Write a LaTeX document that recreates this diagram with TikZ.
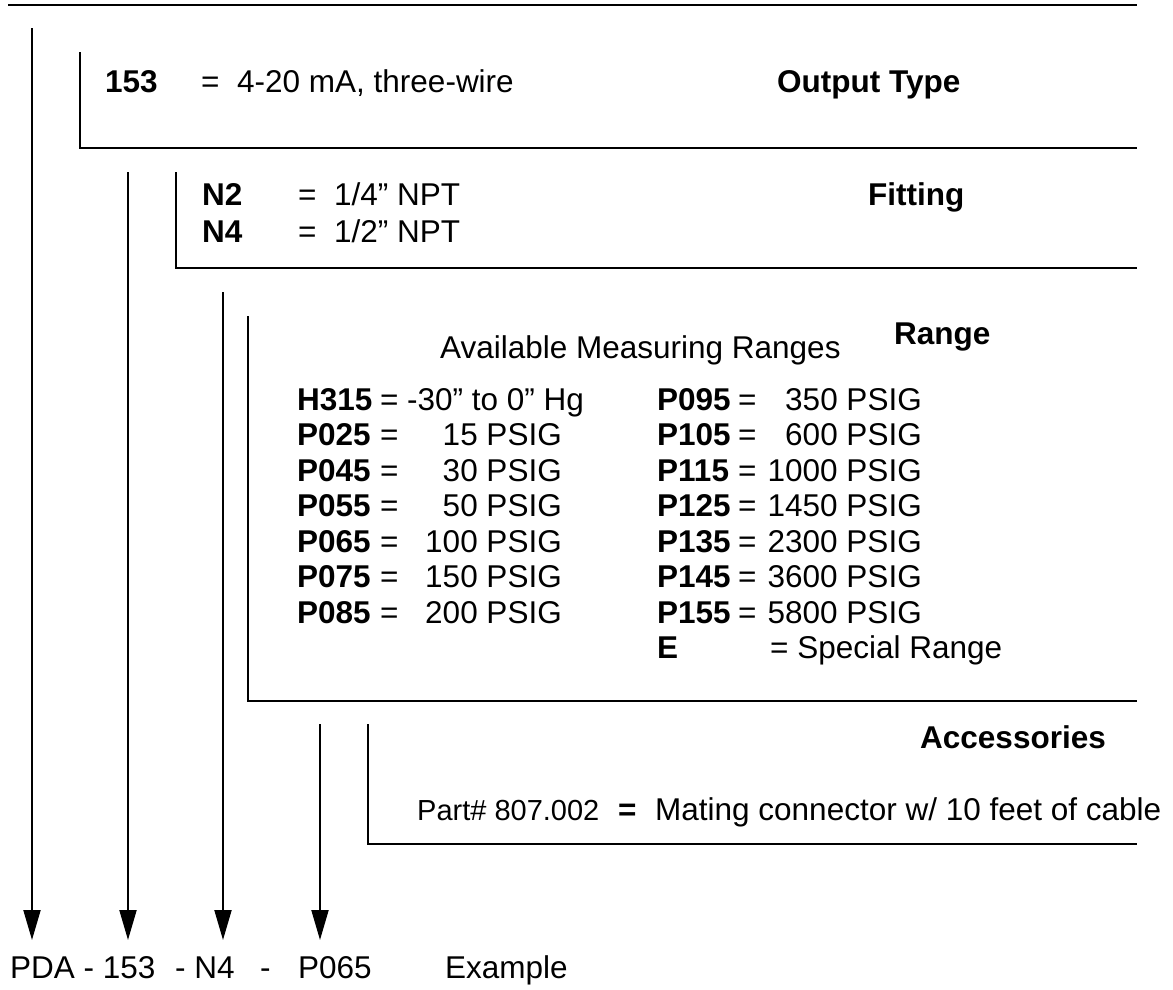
\documentclass[tikz,border=0pt]{standalone}
\usepackage{fontspec}
\setmainfont{Liberation Sans}
\usetikzlibrary{arrows.meta}
\begin{document}
\begin{tikzpicture}[x=1pt,y=-1pt,
  ln/.style={line width=2pt},
  arr/.style={line width=2pt,-{Triangle[length=30pt,width=17pt]}},
  txt/.style={anchor=base west,inner sep=0pt,font=\fontsize{31.5}{37}\selectfont},
  btxt/.style={anchor=base west,inner sep=0pt,font=\fontsize{31.5}{37}\selectfont\bfseries},
  rtxt/.style={anchor=base east,inner sep=0pt,font=\fontsize{31.5}{37}\selectfont},
  stxt/.style={anchor=base west,inner sep=0pt,font=\fontsize{29}{34}\selectfont}]
\useasboundingbox (0,0) rectangle (1173,989);
% top rule
\coordinate (tl) at (8,5); \coordinate (tr) at (1137,5);
\draw[ln] (tl) -- (tr);
% arrows
\coordinate (a1s) at (32,28);  \coordinate (a1e) at (32,940);
\coordinate (a2s) at (128,172); \coordinate (a2e) at (128,940);
\coordinate (a3s) at (223,292); \coordinate (a3e) at (223,940);
\coordinate (a4s) at (320,724); \coordinate (a4e) at (320,940);
\draw[arr] (a1s) -- (a1e);
\draw[arr] (a2s) -- (a2e);
\draw[arr] (a3s) -- (a3e);
\draw[arr] (a4s) -- (a4e);
% brackets
\coordinate (b1t) at (80,52);  \coordinate (b1c) at (80,148);  \coordinate (b1r) at (1137,148);
\coordinate (b2t) at (176,172); \coordinate (b2c) at (176,268); \coordinate (b2r) at (1137,268);
\coordinate (b3t) at (248,316); \coordinate (b3c) at (248,701); \coordinate (b3r) at (1137,701);
\coordinate (b4t) at (368,724); \coordinate (b4c) at (368,844); \coordinate (b4r) at (1137,844);
\draw[ln] (b1t) -- (b1c) -- (b1r);
\draw[ln] (b2t) -- (b2c) -- (b2r);
\draw[ln] (b3t) -- (b3c) -- (b3r);
\draw[ln] (b4t) -- (b4c) -- (b4r);
% output type
\node[btxt] (c153) at (105,92) {153};
\node[txt] (e153) at (201,92) {=};
\node[txt] (v153) at (237,92) {4-20 mA, three-wire};
\node[btxt] (tout) at (777,92) {Output Type};
% fitting
\node[btxt] (cn2) at (202,205) {N2};
\node[txt] (en2) at (298,205) {=};
\node[txt] (vn2) at (334,205) {1/4” NPT};
\node[btxt] (cn4) at (202,242) {N4};
\node[txt] (en4) at (298,242) {=};
\node[txt] (vn4) at (334,242) {1/2” NPT};
\node[btxt] (tfit) at (868,205) {Fitting};
% range
\node[btxt] (trng) at (894,344) {Range};
\node[txt] (tavl) at (440,358) {Available Measuring Ranges};
\foreach \c/\y [count=\i] in {H315/410, P025/445.5, P045/481, P055/516.5, P065/552, P075/587.5, P085/623}{
  \node[btxt] (lc\i) at (297,\y) {\c};
  \node[txt] (le\i) at (380,\y) {=};
}
\node[txt] (lv1) at (407,410) {-30” to 0” Hg};
\foreach \v/\y [count=\i from 2] in {15 PSIG/445.5, 30 PSIG/481, 50 PSIG/516.5, 100 PSIG/552, 150 PSIG/587.5, 200 PSIG/623}{
  \node[rtxt] (lv\i) at (562,\y) {\v};
}
\foreach \c/\v/\y [count=\i] in {P095/350 PSIG/410, P105/600 PSIG/445.5, P115/1000 PSIG/481, P125/1450 PSIG/516.5, P135/2300 PSIG/552, P145/3600 PSIG/587.5, P155/5800 PSIG/623}{
  \node[btxt] (rc\i) at (657,\y) {\c};
  \node[txt] (re\i) at (738,\y) {=};
  \node[rtxt] (rv\i) at (922,\y) {\v};
}
\node[btxt] (rcE) at (657,658.5) {E};
\node[txt] (rvE) at (770,658.5) {= Special Range};
% accessories
\node[btxt] (tacc) at (920,748) {Accessories};
\node[stxt] (part) at (417,820) {Part\# 807.002};
\node[btxt] (epart) at (618,820) {=};
\node[txt] (vpart) at (655,820) {Mating connector w/ 10 feet of cable};
% example
\node[txt] (x1) at (10,978) {PDA - 153};
\node[txt] (x2) at (175,978) {- N4};
\node[txt] (x3) at (260,978) {-};
\node[txt] (x4) at (298,978) {P065};
\node[txt] (x5) at (445,978) {Example};
\end{tikzpicture}
\end{document}
